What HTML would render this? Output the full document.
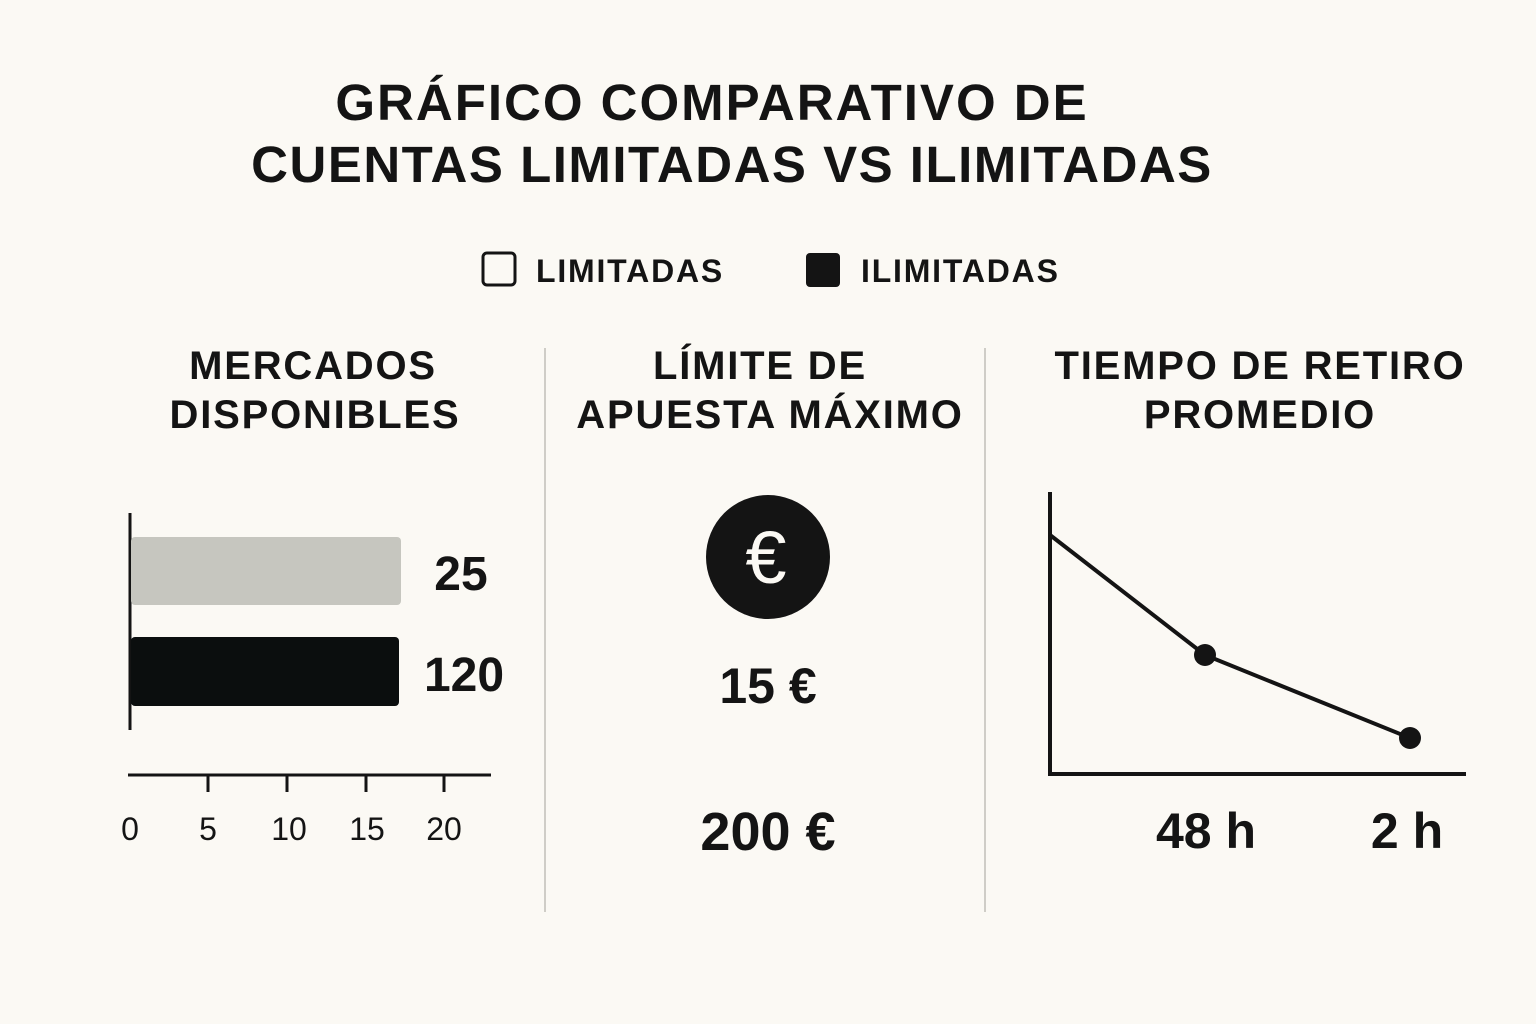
<!DOCTYPE html>
<html><head><meta charset="utf-8"><style>
html,body{margin:0;padding:0;background:#fbf9f4;}
svg{display:block;}
text{font-family:"Liberation Sans",sans-serif;fill:#141414;}
.b{font-weight:bold;}
</style></head><body>
<svg width="1536" height="1024" viewBox="0 0 1536 1024">
<rect width="1536" height="1024" fill="#fbf9f4"/>
<text class="b" x="712" y="120" font-size="51" letter-spacing="2" text-anchor="middle">GRÁFICO COMPARATIVO DE</text>
<text class="b" x="732" y="182" font-size="51" letter-spacing="1.5" text-anchor="middle">CUENTAS LIMITADAS VS ILIMITADAS</text>
<rect x="483" y="253" width="32" height="32" rx="4" fill="none" stroke="#141414" stroke-width="3"/>
<text class="b" x="536" y="282" font-size="32" letter-spacing="1.8">LIMITADAS</text>
<rect x="806" y="253" width="34" height="34" rx="4" fill="#141414"/>
<text class="b" x="861" y="282" font-size="32" letter-spacing="1.8">ILIMITADAS</text>
<g font-size="40" letter-spacing="1.8" text-anchor="middle" class="b">
<text class="b" x="313" y="379">MERCADOS</text>
<text class="b" x="315" y="428">DISPONIBLES</text>
<text class="b" x="760" y="379">LÍMITE DE</text>
<text class="b" x="770" y="428">APUESTA MÁXIMO</text>
<text class="b" x="1260" y="379">TIEMPO DE RETIRO</text>
<text class="b" x="1260" y="428">PROMEDIO</text>
</g>
<line x1="545" y1="348" x2="545" y2="912" stroke="#cfcdc7" stroke-width="2"/>
<line x1="985" y1="348" x2="985" y2="912" stroke="#cfcdc7" stroke-width="2"/>
<line x1="130" y1="513" x2="130" y2="730" stroke="#141414" stroke-width="3"/>
<rect x="131" y="537" width="270" height="68" rx="4" fill="#c6c6bf"/>
<rect x="131" y="637" width="268" height="69" rx="4" fill="#0b0e0e"/>
<text class="b" x="461" y="590" font-size="48" text-anchor="middle">25</text>
<text class="b" x="464" y="691" font-size="48" text-anchor="middle">120</text>
<line x1="128" y1="775" x2="491" y2="775" stroke="#141414" stroke-width="3"/>
<g stroke="#141414" stroke-width="3">
<line x1="208" y1="775" x2="208" y2="792"/><line x1="287" y1="775" x2="287" y2="792"/>
<line x1="366" y1="775" x2="366" y2="792"/><line x1="444" y1="775" x2="444" y2="792"/></g>
<g font-size="32" text-anchor="middle">
<text x="130" y="840">0</text><text x="208" y="840">5</text><text x="289" y="840">10</text><text x="367" y="840">15</text><text x="444" y="840">20</text></g>
<circle cx="768" cy="557" r="62" fill="#141414"/>
<text x="766" y="583" font-size="74" text-anchor="middle" style="fill:#fbf9f4">€</text>
<text class="b" x="768" y="703" font-size="50" text-anchor="middle">15 €</text>
<text class="b" x="768" y="850" font-size="54" text-anchor="middle">200 €</text>
<line x1="1050" y1="492" x2="1050" y2="776" stroke="#141414" stroke-width="4"/>
<line x1="1048" y1="774" x2="1466" y2="774" stroke="#141414" stroke-width="4"/>
<polyline points="1050,535 1205,655 1410,738" fill="none" stroke="#141414" stroke-width="4"/>
<circle cx="1205" cy="655" r="11" fill="#141414"/>
<circle cx="1410" cy="738" r="11" fill="#141414"/>
<text class="b" x="1206" y="848" font-size="50" text-anchor="middle">48 h</text>
<text class="b" x="1407" y="848" font-size="50" text-anchor="middle">2 h</text>
</svg>
</body></html>
